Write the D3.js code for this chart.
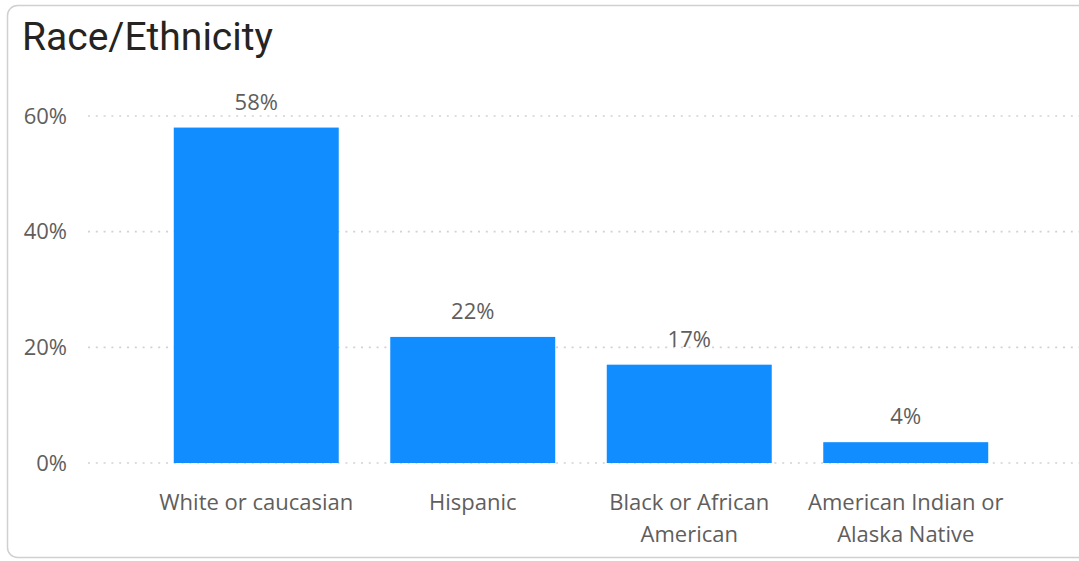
<!DOCTYPE html>
<html>
<head>
<meta charset="utf-8">
<script src="https://cdn.jsdelivr.net/npm/d3@7"></script>
<style>
  body { margin: 0; background: #fff; }
  svg { display: block; }
</style>
</head>
<body>
<svg id="chart"></svg>
<script>
const categories = ["White or caucasian", "Hispanic", "Black or African American", "American Indian or Alaska Native"];
const values = [0.58, 0.218, 0.17, 0.036];
const yTicks = [0, 0.2, 0.4, 0.6];

const width = 1079, height = 561;
const font = "'Open Sans', 'Noto Sans', sans-serif";

const svg = d3.select("#chart")
    .attr("width", width)
    .attr("height", height);

// card frame (right side runs off the picture)
svg.append("rect")
    .attr("x", 7.5).attr("y", 5.5)
    .attr("width", width + 20).attr("height", 552)
    .attr("rx", 10)
    .attr("fill", "#fff")
    .attr("stroke", "#d0d0d0")
    .attr("stroke-width", 1.5);

svg.append("text")
    .attr("x", 22).attr("y", 50)
    .attr("font-family", "Roboto, 'Noto Sans', sans-serif")
    .attr("font-size", 39)
    .attr("font-weight", 400)
    .attr("fill", "#252423")
    .text("Race/Ethnicity");

const x = d3.scaleBand()
    .domain(categories)
    .range([148, 1014])
    .paddingInner(0.238)
    .paddingOuter(0.119);

const y = d3.scaleLinear()
    .domain([0, 0.6])
    .range([463, 116]);

// dotted gridlines
svg.append("g")
    .selectAll("line")
    .data(yTicks)
    .join("line")
    .attr("x1", 88).attr("x2", width)
    .attr("y1", d => y(d)).attr("y2", d => y(d))
    .attr("stroke", "#d2d2d2")
    .attr("stroke-width", 1.6)
    .attr("stroke-dasharray", "2 5.8");

// y axis labels
const yAxis = svg.append("g")
    .attr("transform", "translate(67,0)")
    .call(d3.axisLeft(y).tickValues(yTicks).tickFormat(d3.format(".0%")).tickSize(0).tickPadding(0));
yAxis.select(".domain").remove();
yAxis.selectAll("text")
    .attr("font-family", font)
    .attr("font-size", 22)
    .attr("fill", "#605e5c");

// bars
svg.append("g")
    .selectAll("rect")
    .data(values)
    .join("rect")
    .attr("x", (d, i) => x(categories[i]))
    .attr("y", d => y(d))
    .attr("width", x.bandwidth())
    .attr("height", d => y(0) - y(d))
    .attr("fill", "#118dff");

// value labels
svg.append("g")
    .selectAll("text")
    .data(values)
    .join("text")
    .attr("x", (d, i) => x(categories[i]) + x.bandwidth() / 2)
    .attr("y", d => y(d) - 18)
    .attr("text-anchor", "middle")
    .attr("font-family", font)
    .attr("font-size", 22)
    .attr("fill", "#605e5c")
    .text(d => d3.format(".0%")(d));

// x axis labels, wrapped to the band step
const xAxis = svg.append("g")
    .attr("transform", "translate(0,463)")
    .call(d3.axisBottom(x).tickSize(0).tickPadding(0));
xAxis.select(".domain").remove();
xAxis.selectAll("text")
    .attr("font-family", font)
    .attr("font-size", 22)
    .attr("fill", "#605e5c")
    .call(wrap, x.step());

function wrap(text, w) {
    text.each(function () {
        const t = d3.select(this);
        const words = t.text().split(/\s+/);
        t.text(null).attr("y", null).attr("dy", null);
        let line = [];
        let lineNo = 0;
        let tspan = t.append("tspan").attr("x", 0).attr("y", 47);
        for (const word of words) {
            line.push(word);
            tspan.text(line.join(" "));
            if (tspan.node().getComputedTextLength() > w - 2 && line.length > 1) {
                line.pop();
                tspan.text(line.join(" "));
                line = [word];
                lineNo++;
                tspan = t.append("tspan").attr("x", 0).attr("y", 47 + lineNo * 32).text(word);
            }
        }
    });
}
</script>
</body>
</html>
